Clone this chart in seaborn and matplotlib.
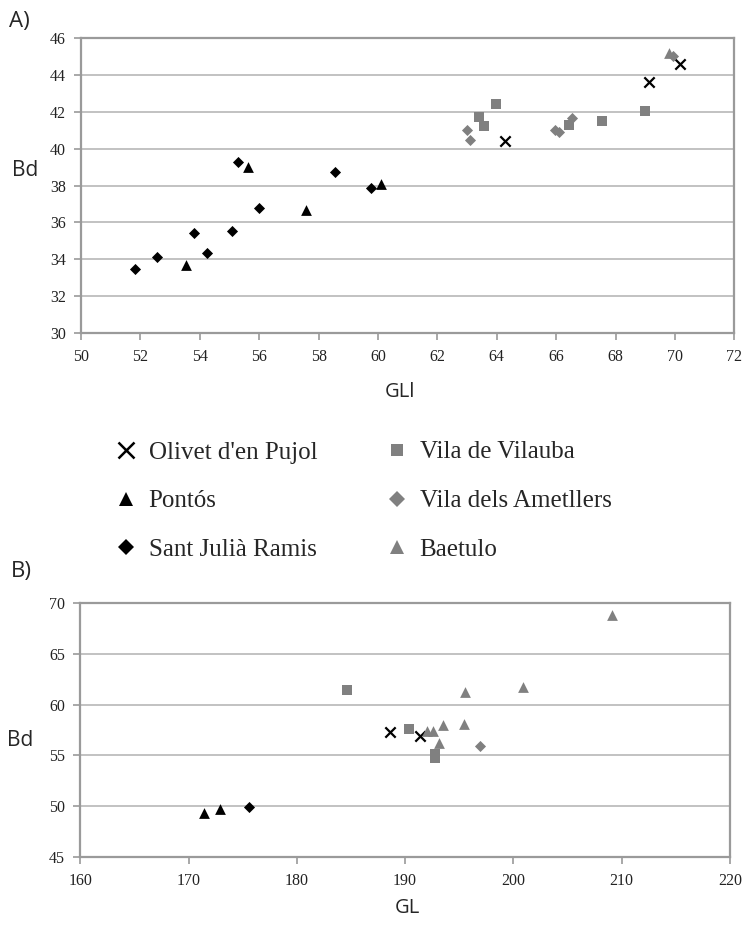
import matplotlib
matplotlib.use("Agg")
import matplotlib.pyplot as plt
from matplotlib.lines import Line2D
import seaborn as sns
import pandas as pd

sns.set_theme(style="white")
plt.rcParams['font.family'] = ['Liberation Serif', 'DejaVu Serif']

sites = ["Olivet d'en Pujol", "Pontós", "Sant Julià Ramis",
         "Vila de Vilauba", "Vila dels Ametllers", "Baetulo"]

# Panel A: GLl vs Bd
a_olivet_x = [64.27, 69.12, 70.17]
a_olivet_y = [40.42, 43.60, 44.58]
a_pontos_x = [53.54, 55.61, 57.58, 60.10]
a_pontos_y = [33.71, 38.98, 36.65, 38.10]
a_sjr_x = [51.82, 52.57, 53.81, 54.23, 55.07, 55.28, 56.01, 58.57, 59.76]
a_sjr_y = [33.46, 34.13, 35.43, 34.33, 35.52, 39.27, 36.78, 38.71, 37.88]
a_vilauba_x = [63.97, 63.41, 63.57, 66.44, 67.53, 68.99]
a_vilauba_y = [42.41, 41.69, 41.22, 41.26, 41.47, 42.01]
a_ametllers_x = [63.01, 63.11, 65.96, 66.09, 66.52, 69.95]
a_ametllers_y = [41.02, 40.46, 41.02, 40.91, 41.65, 45.00]
a_baetulo_x = [69.80]
a_baetulo_y = [45.19]

# Panel B: GL vs Bd
b_olivet_x = [188.6, 191.4]
b_olivet_y = [57.34, 56.95]
b_pontos_x = [171.4, 172.9]
b_pontos_y = [49.33, 49.72]
b_sjr_x = [175.6]
b_sjr_y = [49.98]
b_vilauba_x = [184.6, 190.4, 192.8, 192.8]
b_vilauba_y = [61.43, 57.57, 55.10, 54.80]
b_ametllers_x = [196.9]
b_ametllers_y = [55.94]
b_baetulo_x = [209.1, 195.5, 200.9, 192.0, 192.6, 193.5, 195.4, 193.1]
b_baetulo_y = [68.76, 61.27, 61.70, 57.38, 57.44, 58.00, 58.10, 56.20]

a_xticks = list(range(50, 73, 2))
a_yticks = list(range(30, 47, 2))
b_xticks = list(range(160, 221, 10))
b_yticks = list(range(45, 71, 5))

GRAY = "#808080"
style = {
    "Olivet d'en Pujol": dict(marker="x", color="black", s=55, lw=1.6),
    "Pontós": dict(marker="^", color="black", s=60, lw=0),
    "Sant Julià Ramis": dict(marker="D", color="black", s=32, lw=0),
    "Vila de Vilauba": dict(marker="s", color=GRAY, s=45, lw=0),
    "Vila dels Ametllers": dict(marker="D", color=GRAY, s=32, lw=0),
    "Baetulo": dict(marker="^", color=GRAY, s=60, lw=0),
}

def frame(xs, ys):
    rows = []
    for site, x, y in zip(sites, xs, ys):
        for xi, yi in zip(x, y):
            rows.append({"site": site, "x": xi, "y": yi})
    return pd.DataFrame(rows)

dfa = frame([a_olivet_x, a_pontos_x, a_sjr_x, a_vilauba_x, a_ametllers_x, a_baetulo_x],
            [a_olivet_y, a_pontos_y, a_sjr_y, a_vilauba_y, a_ametllers_y, a_baetulo_y])
dfb = frame([b_olivet_x, b_pontos_x, b_sjr_x, b_vilauba_x, b_ametllers_x, b_baetulo_x],
            [b_olivet_y, b_pontos_y, b_sjr_y, b_vilauba_y, b_ametllers_y, b_baetulo_y])

fig = plt.figure(figsize=(7.45, 9.26), dpi=100)
axA = fig.add_axes([0.1087, 0.640, 0.877, 0.3193])
axB = fig.add_axes([0.1078, 0.0742, 0.872, 0.2749])

SPINE = "#9a9a9a"
GRID = "#bdbdbd"

def draw(ax, df, xticks, yticks):
    for site in sites:
        sub = df[df.site == site]
        st = style[site]
        sns.scatterplot(data=sub, x="x", y="y", ax=ax, marker=st["marker"],
                        color=st["color"], s=st["s"], linewidth=st["lw"],
                        edgecolor=st["color"] if st["marker"] != "x" else None,
                        zorder=3, legend=False)
    ax.set_xlim(xticks[0], xticks[-1])
    ax.set_ylim(yticks[0], yticks[-1])
    ax.set_xticks(xticks)
    ax.set_yticks(yticks)
    ax.yaxis.grid(True, color=GRID, lw=1.3)
    ax.xaxis.grid(False)
    ax.set_axisbelow(True)
    for sp in ax.spines.values():
        sp.set_color(SPINE)
        sp.set_linewidth(1.6)
        sp.set_visible(True)
    ax.tick_params(axis="both", which="major", direction="out", length=5,
                   width=1.2, color=SPINE, labelsize=11.5, labelcolor="#222222",
                   bottom=True, left=True, pad=6)
    ax.set_xlabel("")
    ax.set_ylabel("")

draw(axA, dfa, a_xticks, a_yticks)
draw(axB, dfb, b_xticks, b_yticks)

sans = ['Open Sans', 'DejaVu Sans']
fig.text(9 / 745, 1 - 21 / 926, "A)", fontsize=16, family=sans, va="center", ha="left")
fig.text(12 / 745, 1 - 170 / 926, "Bd", fontsize=15, family=sans, va="center", ha="left")
fig.text(400 / 745, 1 - 392 / 926, "GLl", fontsize=14.5, family=sans, va="center", ha="center")
fig.text(11 / 745, 1 - 572 / 926, "B)", fontsize=16, family=sans, va="center", ha="left")
fig.text(7 / 745, 1 - 740 / 926, "Bd", fontsize=15, family=sans, va="center", ha="left")
fig.text(407 / 745, 1 - 908 / 926, "GL", fontsize=14.5, family=sans, va="center", ha="center")

handles = []
for site in sites:
    st = style[site]
    if st["marker"] == "x":
        h = Line2D([], [], ls="none", marker="x", color=st["color"], markersize=11,
                   markeredgewidth=1.8)
    else:
        ms = {"^": 10, "D": 8, "s": 8.5}[st["marker"]]
        h = Line2D([], [], ls="none", marker=st["marker"], color=st["color"],
                   markersize=ms, markeredgewidth=0)
    handles.append(h)

fig.legend(handles, sites, loc="center", bbox_to_anchor=(0.485, 1 - 501 / 926),
           ncol=2, frameon=False, fontsize=18, handletextpad=0.3,
           columnspacing=2.6, labelspacing=1.05, handlelength=1.2)

fig.savefig("out.png", dpi=100)
